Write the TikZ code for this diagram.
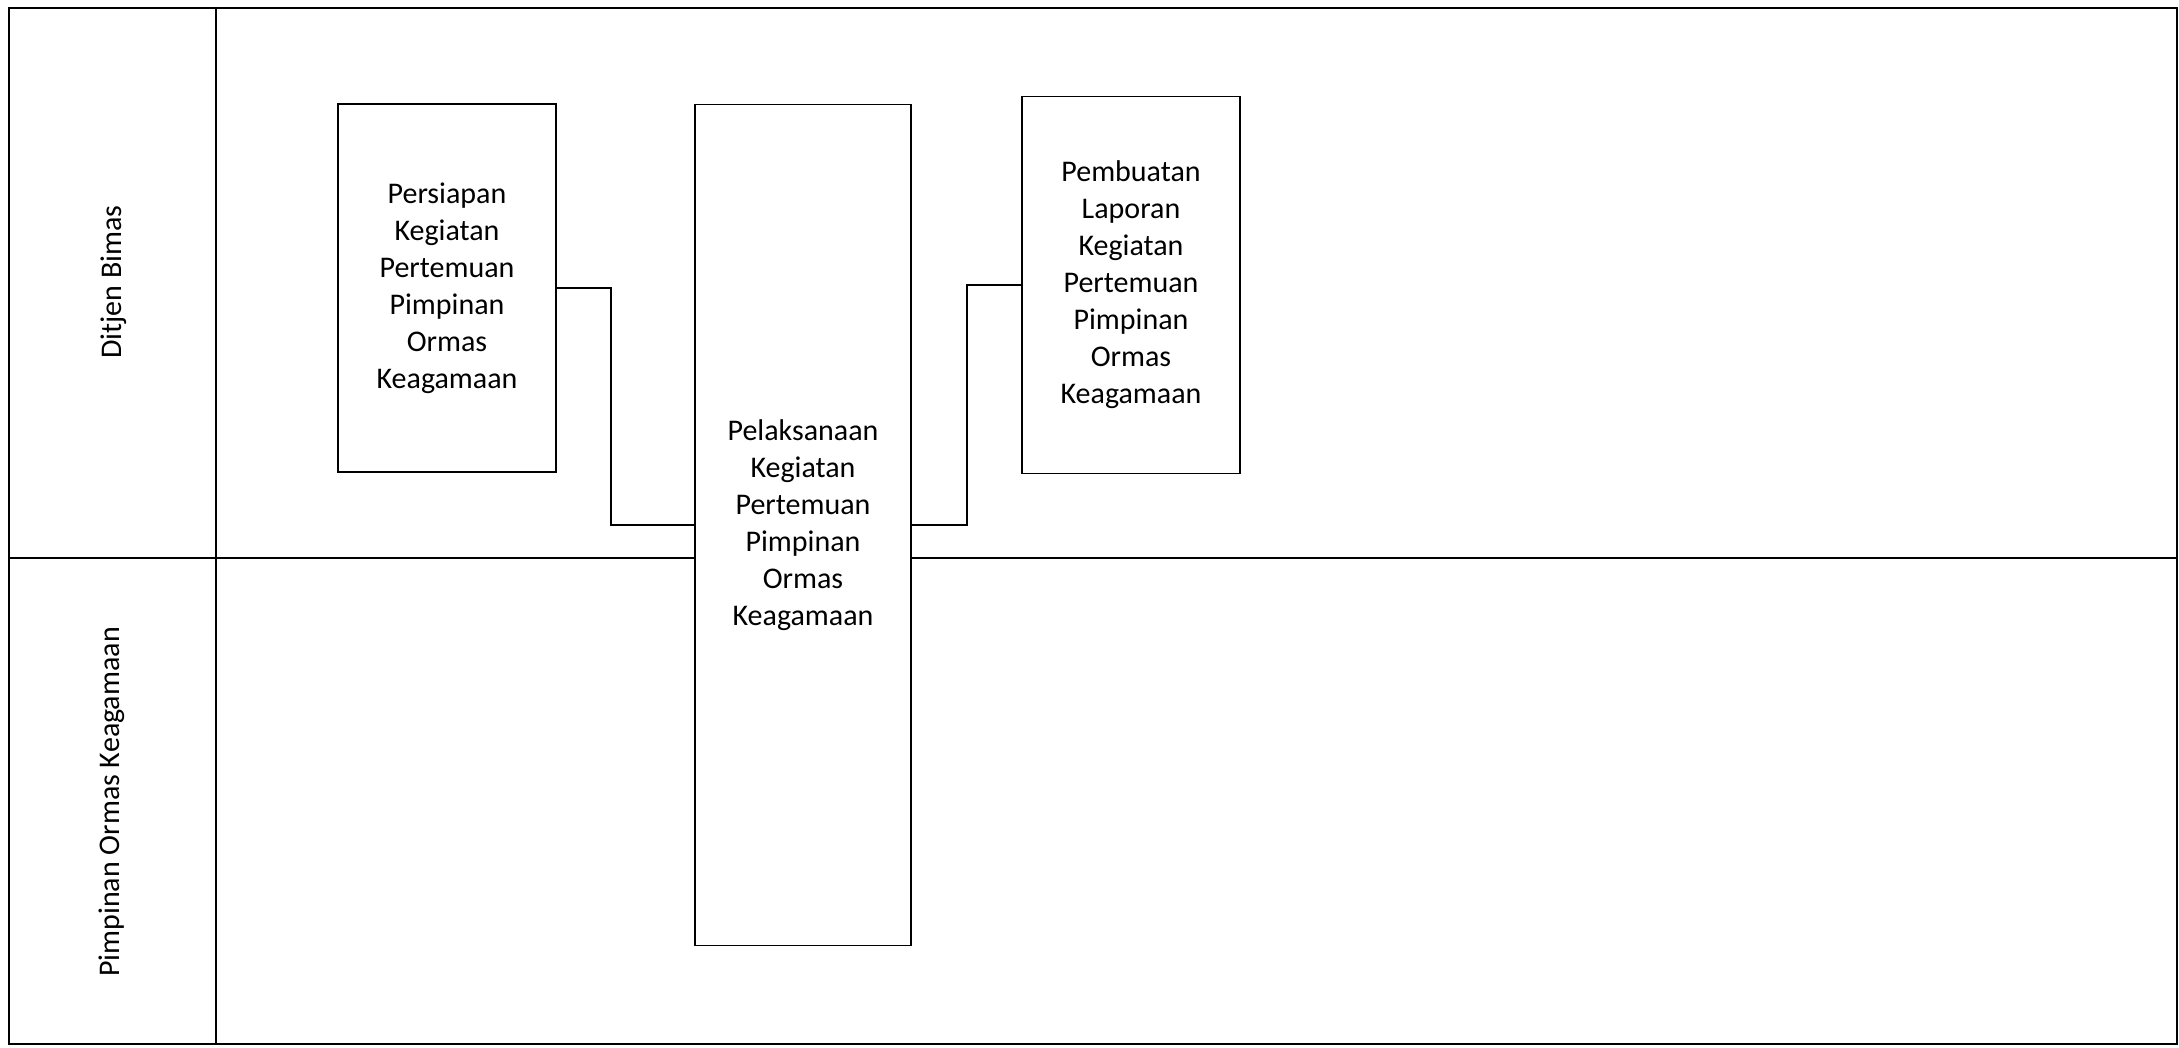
\documentclass[tikz,border=0pt]{standalone}
\usepackage{fontspec}
\setmainfont{Carlito}
\usepackage{tikz}

\begin{document}
\begin{tikzpicture}[x=1pt,y=-1pt]
  \tikzset{proses/.style = {draw, fill=white, line width=1.8pt, align=center, inner sep=0pt,
      font=\fontsize{30}{37}\selectfont}}
  \tikzset{lajur/.style = {rotate=90, font=\fontsize{30}{37}\selectfont}}
  \tikzset{garis/.style = {line width=1.8pt}}

\useasboundingbox (0,0) rectangle (2179,1048);

% lajur
\draw[garis] (9,8) rectangle (2177,1044);
\draw[garis] (216,8) -- (216,1044);
\draw[garis] (9,558) -- (2177,558);

\node[lajur] (ditjen) at (114,282) {Ditjen Bimas};
\node[lajur] (ormas) at (112,802) {Pimpinan Ormas Keagamaan};

% kotak proses
\node[proses, minimum width=218, minimum height=368] (persiapan) at (447,288)
  {Persiapan\\Kegiatan\\Pertemuan\\Pimpinan\\Ormas\\Keagamaan};
\node[proses, minimum width=216, minimum height=841] (pelaksanaan) at (803,525)
  {Pelaksanaan\\Kegiatan\\Pertemuan\\Pimpinan\\Ormas\\Keagamaan};
\node[proses, minimum width=218, minimum height=377] (pembuatan) at (1131,285)
  {Pembuatan\\Laporan\\Kegiatan\\Pertemuan\\Pimpinan\\Ormas\\Keagamaan};

    \draw[garis] (persiapan.east) -- ++(54,0) |- (pelaksanaan.west);
    \draw[garis] (pelaksanaan.east) -- ++(55,0) |- (pembuatan.west);

\end{tikzpicture}
\end{document}
